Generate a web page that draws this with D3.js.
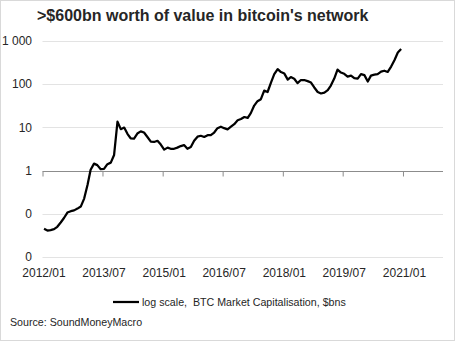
<!DOCTYPE html>
<html>
<head>
<meta charset="utf-8">
<script src="https://cdn.jsdelivr.net/npm/d3@7"></script>
<style>
  html, body { margin: 0; padding: 0; background: #fff; }
  svg { display: block; font-family: "Liberation Sans", Arial, sans-serif; }
</style>
</head>
<body>
<div id="chart"></div>
<script>
// BTC market capitalisation, $bn, monthly from 2012/01
const startMonth = '2012/01';
const marketCap = [
  0.045, 0.041, 0.042, 0.044, 0.050, 0.063, 0.080, 0.107, 0.115, 0.12, 0.132, 0.147,
  0.225, 0.47, 1.05, 1.45, 1.34, 1.08, 1.1, 1.41, 1.53, 2.3, 13.6, 9.1,
  9.9, 7.0, 5.6, 5.5, 7.2, 8.1, 7.6, 6.0, 4.7, 4.6, 4.9, 4.0,
  3.06, 3.4, 3.2, 3.2, 3.4, 3.7, 3.9, 3.2, 3.5, 4.9, 6.1, 6.4,
  6.0, 6.6, 6.6, 7.6, 9.6, 10.4, 9.6, 9.0, 10.4, 11.9, 14.6, 15.6,
  17.4, 16.6, 21.4, 32, 40.5, 45, 71, 66, 109, 171, 224, 191,
  176, 128, 146, 134, 106, 125, 125, 118, 109, 84, 66, 61,
  64, 73, 93, 135, 218, 186, 174, 150, 158, 138, 134, 171,
  162, 115, 158, 166, 171, 195, 205, 192, 256, 360, 540, 650
];
const xTickLabels = ['2012/01', '2013/07', '2015/01', '2016/07', '2018/01', '2019/07', '2021/01'];
const yTicks = [0.01, 0.1, 1, 10, 100, 1000];

const width = 455, height = 341;
const parseMonth = d3.timeParse('%Y/%m');

const start = parseMonth(startMonth);
const data = marketCap.map((v, i) => ({
  date: d3.timeDay.offset(d3.timeMonth.offset(start, i), 14),
  value: v
}));

const svg = d3.select('#chart')
  .append('svg')
  .attr('width', width)
  .attr('height', height);

svg.append('rect')
  .attr('x', 0.5).attr('y', 0.5)
  .attr('width', width - 1).attr('height', height - 1)
  .attr('fill', '#fff')
  .attr('stroke', '#d9d9d9');

const x = d3.scaleTime()
  .domain([start, parseMonth('2022/01')])
  .range([42.5, 443]);

const y = d3.scaleLog()
  .domain([0.01, 1000])
  .range([257, 41]);

// horizontal gridlines
svg.append('g')
  .selectAll('line')
  .data(yTicks.filter(d => d !== 1))
  .join('line')
  .attr('x1', x.range()[0])
  .attr('x2', x.range()[1])
  .attr('y1', d => Math.round(y(d)) + 0.5)
  .attr('y2', d => Math.round(y(d)) + 0.5)
  .attr('stroke', '#e3e3e3')
  .attr('stroke-width', 1);

// y labels: whole numbers with a space as thousands separator
const fmtY = d => d3.format(',.0f')(d).replace(/,/g, ' ');
svg.append('g')
  .selectAll('text')
  .data(yTicks)
  .join('text')
  .attr('x', 32)
  .attr('y', d => y(d))
  .attr('dy', '0.35em')
  .attr('text-anchor', 'end')
  .attr('font-size', 12)
  .attr('fill', '#262626')
  .text(fmtY);

// x axis sits on the 1 line
const xTickDates = xTickLabels.map(parseMonth);
const xAxis = svg.append('g')
  .attr('transform', `translate(0,${Math.round(y(1)) + 0.5})`)
  .call(d3.axisBottom(x)
    .tickValues(xTickDates)
    .tickSize(5)
    .tickFormat(''));
xAxis.select('.domain')
  .attr('d', `M${x.range()[0]},0H${x.range()[1]}`)
  .attr('stroke', '#8c8c8c');
xAxis.selectAll('.tick line').attr('stroke', '#8c8c8c');

svg.append('g')
  .selectAll('text')
  .data(xTickDates)
  .join('text')
  .attr('x', d => x(d) + 1.5)
  .attr('y', 277)
  .attr('text-anchor', 'middle')
  .attr('font-size', 12)
  .attr('fill', '#262626')
  .text(d3.timeFormat('%Y/%m'));

// series line
const line = d3.line()
  .x(d => x(d.date))
  .y(d => y(d.value));

svg.append('path')
  .datum(data)
  .attr('fill', 'none')
  .attr('stroke', '#000')
  .attr('stroke-width', 2.25)
  .attr('stroke-linejoin', 'round')
  .attr('d', line);

// title
svg.append('text')
  .attr('x', 37)
  .attr('y', 21)
  .attr('font-size', 16)
  .attr('font-weight', 'bold')
  .attr('fill', '#262626')
  .text(">$600bn worth of value in bitcoin's network");

// legend
svg.append('line')
  .attr('x1', 113).attr('x2', 139)
  .attr('y1', 302).attr('y2', 302)
  .attr('stroke', '#000')
  .attr('stroke-width', 2.25);
svg.append('text')
  .attr('x', 142)
  .attr('y', 306)
  .attr('font-size', 10.67)
  .attr('fill', '#262626')
  .attr('xml:space', 'preserve')
  .text('log scale,  BTC Market Capitalisation, $bns');

svg.append('text')
  .attr('x', 10)
  .attr('y', 326)
  .attr('font-size', 10.67)
  .attr('fill', '#262626')
  .text('Source: SoundMoneyMacro');
</script>
</body>
</html>
